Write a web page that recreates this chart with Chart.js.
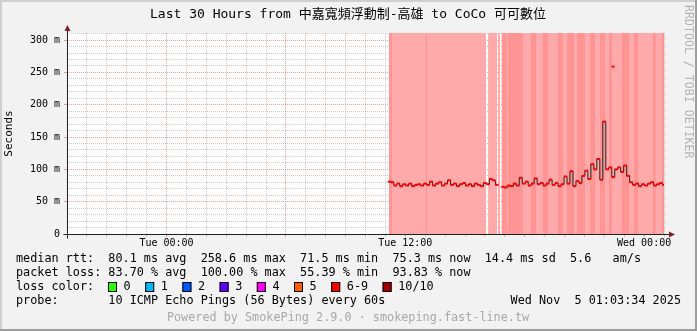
<!DOCTYPE html>
<html>
<head>
<meta charset="utf-8">
<script src="https://cdn.jsdelivr.net/npm/chart.js@4.4.0/dist/chart.umd.min.js"></script>
<style>
  html, body { margin: 0; padding: 0; background: #f2f2f2; }
</style>
</head>
<body>
<canvas id="smoke" width="697" height="331"></canvas>
<script>
// time axis in hours, 0 = Tue 00:00
const xStart = -4.95, xEnd = 25.05;
const yTop = 311; // ms
const hourLabels = { 0: 'Tue 00:00', 12: 'Tue 12:00', 24: 'Wed 00:00' };

// median rtt in ms, one sample every 0.15 h starting at 11.25 h
const medianStart = 11.25, medianStep = 0.15;
const medianRtt = [
  81, 80, 75, 78, 74, 77, 75, 78, 74, 76,
  77, 75, 78, 76, 81, 75, 78, 80, 75, 78,
  83, 76, 78, 74, 77, 79, 75, 77, 74, 78,
  76, 74, 79, 77, 85, 83, 76, null, 73, 72,
  75, 74, 78, 75, 87, 78, 81, 75, 78, 86,
  77, 79, 75, 78, 84, 76, 79, 74, 77, 89,
  78, 97, 74, 82, 79, 90, 98, 85, 108, 100,
  116, 84, 174, 100, 103, 88, 100, 103, 96, 106,
  90, 80, 76, 78, 74, 77, 75, 78, 80, 75,
  77, 79, 76
];

// lone median sample (no neighbours)
const loneTime = [22.49];
const loneRtt = [259];

// loss background, [from, to] in hours
const lossLight = [[11.23, 16.11], [16.21, 16.66], [16.71, 16.83], [16.88, 25.05]];
const lossHeavy = [
  [11.23, 11.38], [13.07, 13.14], [16.91, 17.16], [17.21, 17.96], [18.37, 18.62],
  [18.97, 19.22], [19.72, 19.97], [20.18, 20.53], [20.68, 21.08], [21.33, 21.58],
  [21.83, 22.08], [22.29, 22.44], [22.94, 23.29], [23.54, 23.74], [24.49, 24.64],
  [24.95, 25.05]
];

// legend
const rttStats = ['80.1 ms avg', '258.6 ms max', '71.5 ms min', '75.3 ms now', '14.4 ms sd', '5.6   am/s'];
const lossStats = ['83.70 % avg', '100.00 % max', '55.39 % min', '93.83 % now'];
const lossLabels = ['0', '1', '2', '3', '4', '5', '6-9', '10/10'];
const lossColors = ['#26ff00', '#00b8ff', '#0059ff', '#5e00ff', '#ff00ff', '#ff5e00', '#ff0000', '#a10000'];

const MONO = '"DejaVu Sans Mono", monospace';
const GRID = 'rgba(143,143,143,0.45)';
const MGRID = 'rgba(222,79,79,0.55)';

function stripePoints(list) {
  const pts = [];
  list.forEach(([a, b]) => {
    pts.push({ x: a, y: yTop }, { x: b, y: yTop }, { x: b, y: null });
  });
  return pts;
}

const medianPoints = medianRtt.map((v, i) => ({ x: medianStart + i * medianStep, y: v }));
const lonePoints = loneTime.map((t, i) => ({ x: t, y: loneRtt[i] }));

// frame, titles, axes and legend text around the plot
const deco = {
  id: 'deco',
  beforeDraw(chart) {
    const c = chart.ctx, a = chart.chartArea;
    c.save();
    c.fillStyle = '#f2f2f2';
    c.fillRect(0, 0, chart.width, chart.height);
    c.fillStyle = '#ffffff';
    c.fillRect(a.left, a.top, a.right - a.left, a.bottom - a.top);
    c.restore();
  },
  afterDraw(chart) {
    const c = chart.ctx, a = chart.chartArea;
    c.save();

    // axes
    const ax = Math.round(a.left) + 0.5, ay = Math.round(a.bottom) + 0.5;
    c.strokeStyle = '#1f1f1f';
    c.lineWidth = 1;
    c.beginPath();
    c.moveTo(ax - 4, ay); c.lineTo(a.right + 5, ay);
    c.moveTo(ax, ay + 4); c.lineTo(ax, a.top - 2);
    c.stroke();
    c.fillStyle = '#7f1f1f';
    c.beginPath();
    c.moveTo(a.right + 5, ay - 3); c.lineTo(a.right + 5, ay + 3); c.lineTo(a.right + 11, ay);
    c.closePath(); c.fill();
    c.beginPath();
    c.moveTo(ax - 3, a.top - 2); c.lineTo(ax + 3, a.top - 2); c.lineTo(ax, a.top - 8);
    c.closePath(); c.fill();

    // title
    c.fillStyle = '#000';
    c.textBaseline = 'middle';
    c.textAlign = 'center';
    c.font = '13px "DejaVu Sans Mono", "Noto Sans CJK TC", monospace';
    c.fillText('Last 30 Hours from 中嘉寬頻浮動制-高雄 to CoCo 可可數位', 348, 15);

    // side credit
    c.save();
    c.translate(688, 5);
    c.rotate(Math.PI / 2);
    c.textAlign = 'left';
    c.fillStyle = '#b4b4b4';
    c.font = '11.6px ' + MONO;
    c.fillText('RRDTOOL / TOBI OETIKER', 0, 0);
    c.restore();

    // legend rows
    c.font = '11.8px ' + MONO;
    c.textAlign = 'left';
    c.fillStyle = '#000';
    c.fillText('median rtt:  ' + rttStats.join('  '), 16, 259);
    c.fillText('packet loss: ' + lossStats.join('  '), 16, 273);
    c.fillText('loss color:', 16, 287);
    let sx = 108;
    lossLabels.forEach((lab, i) => {
      c.fillStyle = lossColors[i];
      c.fillRect(sx, 282, 9, 10);
      c.strokeStyle = '#000';
      c.strokeRect(sx + 0.5, 282.5, 8, 9);
      c.fillStyle = '#000';
      c.fillText(lab, sx + 15.6, 287);
      sx += 30.1 + lab.length * 7.1;
    });
    c.fillText('probe:       10 ICMP Echo Pings (56 Bytes) every 60s', 16, 301);
    c.textAlign = 'right';
    c.fillText('Wed Nov  5 01:03:34 2025', 681, 301);

    // footer
    c.textAlign = 'center';
    c.fillStyle = '#a8a8a8';
    c.fillText('Powered by SmokePing 2.9.0 · smokeping.fast-line.tw', 348, 318);

    // 3d frame
    c.fillStyle = '#cfcfcf';
    c.fillRect(0, 0, chart.width, 2);
    c.fillRect(0, 0, 2, chart.height);
    c.fillStyle = '#9e9e9e';
    c.fillRect(0, chart.height - 2, chart.width, 2);
    c.fillRect(chart.width - 2, 0, 2, chart.height);
    c.restore();
  }
};

new Chart(document.getElementById('smoke').getContext('2d'), {
  type: 'line',
  data: {
    datasets: [
      {
        label: 'median',
        data: medianPoints,
        order: 0,
        borderColor: '#202020',
        borderWidth: 1,
        stepped: 'middle',
        spanGaps: false,
        pointStyle: 'line',
        pointRadius: 1.6,
        pointBorderWidth: 2,
        pointBorderColor: '#ff0000',
        fill: false
      },
      {
        label: 'lone',
        data: lonePoints,
        order: 1,
        showLine: false,
        pointStyle: 'line',
        pointRadius: 1.5,
        pointBorderWidth: 2,
        pointBorderColor: '#ff0000',
        fill: false
      },
      {
        label: 'heavy loss',
        data: stripePoints(lossHeavy),
        order: 2,
        borderWidth: 0,
        pointRadius: 0,
        spanGaps: false,
        backgroundColor: '#ff9494',
        fill: 'origin'
      },
      {
        label: 'loss',
        data: stripePoints(lossLight),
        order: 3,
        borderWidth: 0,
        pointRadius: 0,
        spanGaps: false,
        backgroundColor: '#ffaaaa',
        fill: 'origin'
      }
    ]
  },
  options: {
    responsive: false,
    devicePixelRatio: 1,
    animation: false,
    events: [],
    layout: { padding: { left: 0, top: 33, right: 33, bottom: 81 } },
    plugins: {
      legend: { display: false },
      tooltip: { enabled: false },
      title: { display: false }
    },
    scales: {
      x: {
        type: 'linear',
        min: xStart,
        max: xEnd,
        z: 1,
        border: { display: false, dash: [1, 1] },
        grid: {
          color: ctx => (ctx.tick && Math.round(ctx.tick.value) % 6 === 0) ? MGRID : GRID,
          tickLength: 3,
          lineWidth: 1
        },
        ticks: {
          stepSize: 1,
          includeBounds: false,
          autoSkip: false,
          maxRotation: 0,
          padding: 0,
          color: '#000',
          font: { family: MONO, size: 10 },
          callback: v => hourLabels[Math.round(v)] || ''
        },
        afterFit: s => { s.height = 16; }
      },
      y: {
        min: 0,
        max: yTop,
        z: 1,
        border: { display: false, dash: [1, 1] },
        grid: {
          color: ctx => (ctx.tick && Math.round(ctx.tick.value) % 50 === 0) ? MGRID : GRID,
          tickLength: 3,
          tickColor: ctx => (ctx.tick && Math.round(ctx.tick.value) % 50 === 0) ? MGRID : 'rgba(0,0,0,0)',
          lineWidth: 1
        },
        ticks: {
          stepSize: 10,
          includeBounds: false,
          autoSkip: false,
          padding: 4,
          color: '#000',
          font: { family: MONO, size: 10 },
          callback: v => {
            const r = Math.round(v);
            if (r % 50 !== 0) return '';
            return r === 0 ? '0' : r + ' m';
          }
        },
        title: {
          display: true,
          text: 'Seconds',
          color: '#000',
          font: { family: MONO, size: 11 },
          padding: { top: 3, bottom: 0 }
        },
        afterFit: s => { s.width = 67; }
      }
    }
  },
  plugins: [deco]
});
</script>
</body>
</html>
